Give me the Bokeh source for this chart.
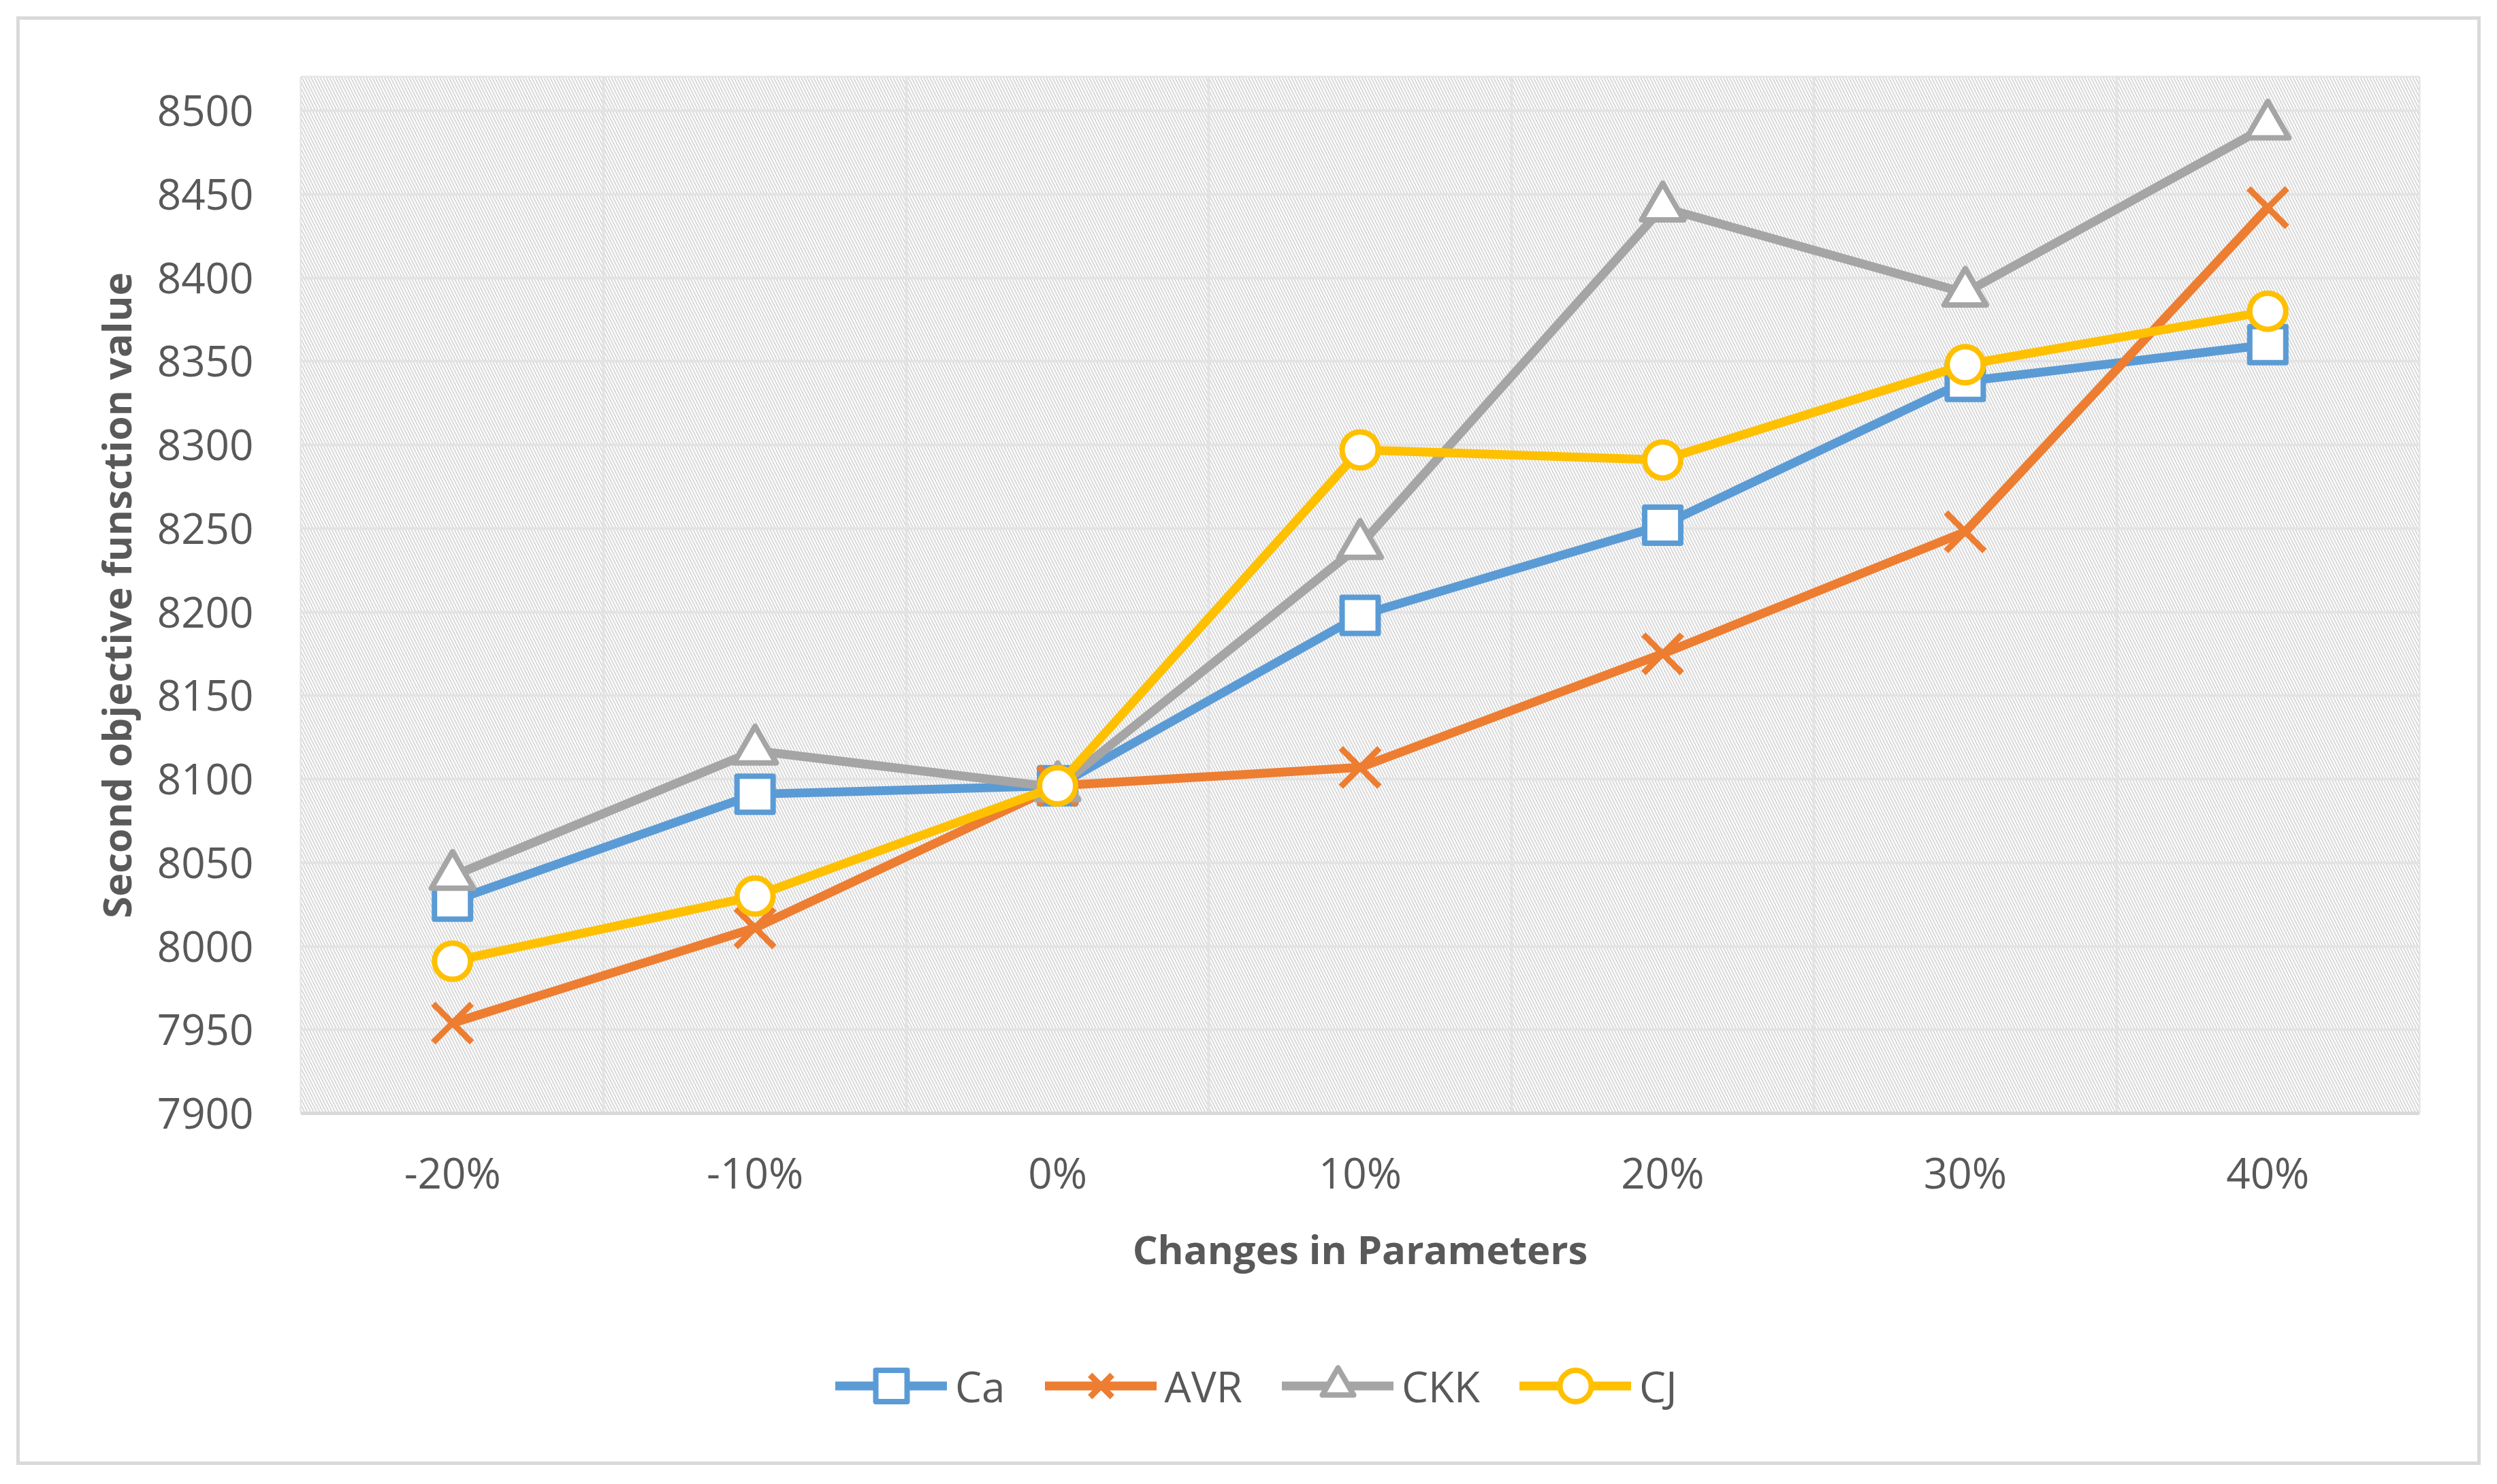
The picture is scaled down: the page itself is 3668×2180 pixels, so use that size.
from bokeh.plotting import figure
from bokeh.layouts import column
from bokeh.models import (ColumnDataSource, FactorRange, Range1d, FixedTicker, Grid,
                          Legend, LegendItem, BoxAnnotation)
from bokeh.embed import file_html
from bokeh.resources import INLINE

# ---- data ----
categories = ["-20%", "-10%", "0%", "10%", "20%", "30%", "40%"]
ca = [8027, 8091, 8096, 8198, 8252, 8338, 8360]
avr = [7954, 8011, 8096, 8107, 8175, 8248, 8442]
ckk = [8042, 8117, 8095, 8240, 8442, 8391, 8491]
cj = [7991, 8030, 8096, 8297, 8291, 8348, 8380]
y_ticks = [7900, 7950, 8000, 8050, 8100, 8150, 8200, 8250, 8300, 8350, 8400, 8450, 8500]
y_min, y_max = 7900, 8520

series_names = ["Ca", "AVR", "CKK", "CJ"]
series_values = [ca, avr, ckk, cj]
colors = ["#5B9BD5", "#ED7D31", "#A5A5A5", "#FFC000"]
markers = ["square", "x", "triangle", "circle"]
marker_sizes = [53, 80, 62, 53]
marker_widths = [8, 9, 8, 8]

TEXT = "#595959"
GRID = "#e3e3e3"
FONT = "Open Sans"

W = 3610
H_MAIN, H_LEG = 1866, 252

p = figure(width=W, height=H_MAIN, output_backend="svg", toolbar_location=None,
           x_range=FactorRange(factors=categories, range_padding=0),
           y_range=Range1d(y_min, y_max),
           min_border_left=413, min_border_right=86,
           min_border_top=84, min_border_bottom=H_MAIN - 1606)
p.background_fill_color = "white"
p.border_fill_color = "white"
p.outline_line_color = GRID
p.outline_line_width = 4

# hatched plot-area background
bg = BoxAnnotation(fill_color="white", fill_alpha=1.0, line_color=None,
                   hatch_pattern="\\", hatch_color="#d9d9d9", hatch_scale=9,
                   hatch_weight=2, level="image")
p.add_layout(bg)

# grids
yticker = FixedTicker(ticks=y_ticks)
p.ygrid.ticker = yticker
p.ygrid.grid_line_color = GRID
p.ygrid.grid_line_width = 4
p.xgrid.visible = False
vgrid = Grid(dimension=0, ticker=FixedTicker(ticks=list(range(len(categories) + 1))),
             grid_line_color=GRID, grid_line_width=4)
p.add_layout(vgrid)

# axes
p.yaxis.ticker = yticker
p.yaxis.axis_line_color = None
p.yaxis.major_tick_line_color = None
p.yaxis.minor_tick_line_color = None
p.yaxis.major_label_standoff = 64
p.yaxis.axis_label = "Second objective funsction value"
p.yaxis.axis_label_standoff = 18

p.xaxis.axis_line_color = "#d9d9d9"
p.xaxis.axis_line_width = 5
p.xaxis.major_tick_line_color = None
p.xaxis.minor_tick_line_color = None
p.xaxis.major_label_standoff = 38
p.xaxis.axis_label = "Changes in Parameters"
p.xaxis.axis_label_standoff = 28

for ax in (p.xaxis[0], p.yaxis[0]):
    ax.major_label_text_font = FONT
    ax.major_label_text_font_size = "62px"
    ax.major_label_text_color = TEXT
    ax.axis_label_text_font = FONT
    ax.axis_label_text_font_size = "58px"
    ax.axis_label_text_font_style = "bold"
    ax.axis_label_text_color = TEXT

# legend strip (separate figure below the chart; its range keeps the proxy
# glyphs out of view so only the legend is visible)
q = figure(width=W, height=H_LEG, output_backend="svg", toolbar_location=None,
           x_range=FactorRange(factors=categories), y_range=Range1d(0, 1),
           x_axis_location=None, y_axis_location=None,
           min_border_left=0, min_border_right=0,
           min_border_top=0, min_border_bottom=0)
q.outline_line_color = None
q.background_fill_color = "white"
q.border_fill_color = "white"
q.grid.visible = False

# series
items = []
for name, vals, col, mk, ms, mw in zip(series_names, series_values, colors, markers,
                                       marker_sizes, marker_widths):
    src = ColumnDataSource(dict(x=categories, y=vals))
    p.line("x", "y", source=src, line_color=col, line_width=13,
           line_join="round", line_cap="round")
    p.scatter("x", "y", source=src, marker=mk, size=ms, line_color=col,
              line_width=mw, fill_color="white", line_join="round")
    lr = q.line("x", "y", source=src, line_color=col, line_width=13,
                line_join="round", line_cap="round")
    sr = q.scatter("x", "y", source=src, marker=mk, size=ms, line_color=col,
                   line_width=mw, fill_color="white", line_join="round")
    items.append(LegendItem(label=name, renderers=[lr, sr]))

legend = Legend(items=items, orientation="horizontal", location=(785, 54),
                glyph_width=164, glyph_height=115, label_standoff=12, spacing=58,
                padding=0, margin=0, border_line_color=None, background_fill_alpha=0,
                label_text_font=FONT, label_text_font_size="62px",
                label_text_color=TEXT)
q.add_layout(legend)

layout = column(p, q, spacing=0,
                styles={"border": "5px solid #d9d9d9", "margin": "24px 0 0 24px"})

open("out.html", "w").write(file_html(layout, INLINE))
